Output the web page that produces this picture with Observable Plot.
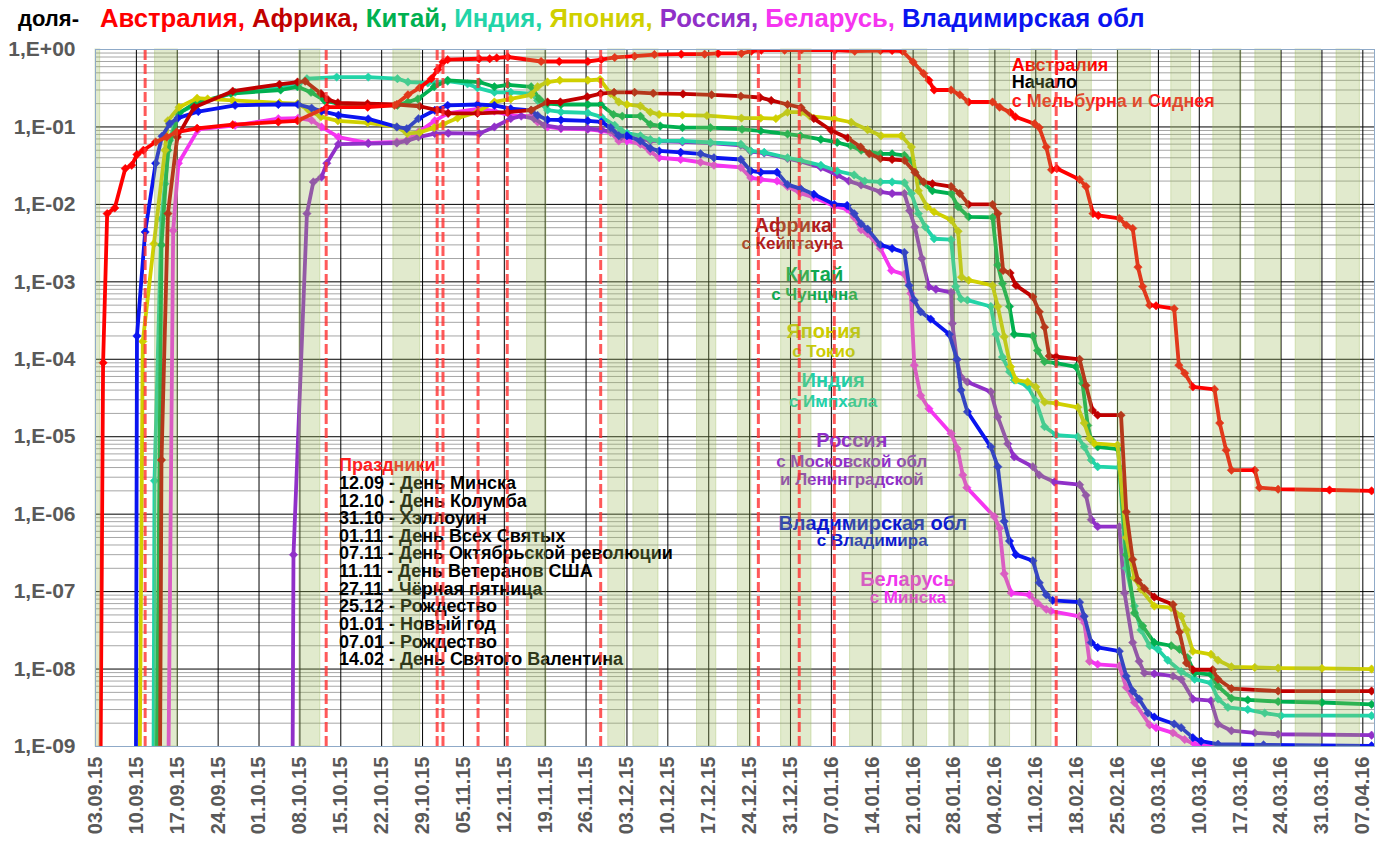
<!DOCTYPE html>
<html><head><meta charset="utf-8">
<script src="https://cdn.jsdelivr.net/npm/d3@7"></script>
<script src="https://cdn.jsdelivr.net/npm/@observablehq/plot@0.6"></script>
<style>
body{margin:0;background:#fff;font-family:"Liberation Sans",Arial,sans-serif;}
#title{position:relative;height:38px;width:1385px;}
#title .u{position:absolute;left:18px;top:8px;font-size:22px;font-weight:bold;line-height:22px;color:#000;}
#title .n{position:absolute;left:100px;top:5px;font-size:25.7px;font-weight:bold;line-height:26px;white-space:nowrap;}
</style></head><body>
<div id="title"></div><div id="chart"></div>
<script>
// ---------- data (x = days since 03.09.15, y = share) ----------
const startDate = "2015-09-03";
const seriesNames = ["Австралия","Африка","Китай","Индия","Япония","Россия","Беларусь","Владимирская обл"];
const seriesColors = ["#ff0000","#c00000","#00b050","#22d4a8","#d0d000","#9030c8","#f535f0","#0a14f0"];

const australia = [[0.8,1e-10],[1.3,9e-5],[2.0,7.6e-3],[3.3,9e-3],[5.1,2.9e-2],[6.2,3.2e-2],[7.1,4.4e-2],[8.2,5e-2],[10.3,6.4e-2],[12.2,7.4e-2],[13.9,8.6e-2],[17.4,9.6e-2],[23.5,0.107],[31.3,0.116],[34.6,0.12],[39.6,0.18],[46.6,0.18],[51.2,0.19],[53.5,0.26],[55.5,0.32],[57.5,0.42],[58.6,0.55],[59.5,0.69],[60.3,0.74],[65.7,0.76],[67.5,0.76],[68.7,0.78],[70.6,0.80],[76.3,0.70],[79.4,0.70],[84.3,0.70],[86.6,0.74],[88.9,0.79],[92.3,0.82],[95.7,0.86],[100.3,0.87],[104.3,0.87],[106.6,0.89],[110.6,0.89],[112.3,0.95],[114,0.98],[118,0.98],[120.9,0.99],[126.6,0.98],[130,0.95],[134.4,0.97],[136.4,0.97],[138.2,0.95],[140,0.69],[141.8,0.49],[142.7,0.40],[143.6,0.30],[146.5,0.30],[148,0.26],[149.5,0.21],[153.6,0.21],[154.8,0.18],[156.6,0.155],[157.5,0.135],[160.8,0.11],[161.6,0.098],[162.8,0.055],[163.7,0.028],[164.6,0.029],[168.5,0.021],[169.6,0.017],[170.8,7.6e-3],[171.7,7.2e-3],[175.3,6.6e-3],[176.5,5.4e-3],[177.6,4.9e-3],[178.5,1.55e-3],[179.3,8.7e-4],[180.5,5e-4],[181.6,4.9e-4],[184.7,4.5e-4],[185.5,8.4e-5],[186.5,6.6e-5],[187.9,4.4e-5],[191.6,4.1e-5],[192.5,1.5e-5],[193.6,6.7e-6],[194.5,3.7e-6],[198.5,3.7e-6],[199.3,2.2e-6],[202.5,2.1e-6],[211.3,2.05e-6],[218.5,2.0e-6]];

const africa = [[11.0,1e-10],[11.3,5e-6],[12.4,7.6e-3],[14,0.074],[16.9,0.18],[23.5,0.29],[31.5,0.355],[34.6,0.38],[35.9,0.39],[38.6,0.27],[39.8,0.225],[41.5,0.205],[46.6,0.2],[51.6,0.195],[55.5,0.185],[58.5,0.165],[60.4,0.15],[65.4,0.15],[70.6,0.155],[74.6,0.165],[77.4,0.21],[79.6,0.21],[84.2,0.245],[86.5,0.27],[88.8,0.28],[92.3,0.28],[95.5,0.272],[100.6,0.267],[105.5,0.26],[110.5,0.25],[113.8,0.24],[115.7,0.22],[118.5,0.195],[120.8,0.178],[123,0.128],[126,0.09],[128.8,0.072],[131,0.055],[132.5,0.045],[134.4,0.039],[136.4,0.038],[138.5,0.037],[140.3,0.026],[141.8,0.0195],[143.3,0.0185],[146.5,0.017],[148,0.0138],[149.5,0.01],[153.6,0.01],[154.5,7.6e-3],[155.4,1.4e-3],[156.6,1.3e-3],[157.6,9e-4],[160.5,6.4e-4],[161.6,4.1e-4],[162.5,2.6e-4],[163.3,1.1e-4],[164.5,1.08e-4],[168.5,1.0e-4],[169.6,4.6e-5],[170.7,2.2e-5],[171.6,1.9e-5],[175.6,1.9e-5],[176.5,1.07e-6],[177.6,2.6e-7],[178.5,1.4e-7],[179.6,1.1e-7],[181.3,8.5e-8],[184.5,6.8e-8],[185.6,3e-8],[186.8,1.2e-8],[187.9,9.8e-9],[191.3,9.8e-9],[192.2,7.4e-9],[194.5,5.6e-9],[202.5,5.2e-9],[218.5,5.2e-9]];

const china = [[10.4,1e-10],[11.3,3e-3],[12.4,0.05],[14.3,0.15],[16.9,0.2],[23.2,0.27],[31.7,0.30],[34.6,0.33],[36.9,0.28],[39.2,0.22],[41.5,0.2],[46.6,0.19],[51.7,0.19],[53.5,0.21],[55.2,0.23],[58,0.33],[60.3,0.40],[65.7,0.38],[68.3,0.33],[70.6,0.35],[74.6,0.33],[76,0.23],[77.4,0.2],[79.7,0.195],[84.3,0.195],[86.5,0.195],[88.7,0.145],[90.2,0.138],[93.3,0.138],[95,0.108],[96.7,0.103],[100.5,0.098],[105.3,0.098],[110.7,0.093],[113.9,0.089],[118.5,0.081],[120.7,0.077],[124.2,0.069],[127,0.063],[129.3,0.057],[131.1,0.05],[134.4,0.045],[136.4,0.045],[138.5,0.043],[139.7,0.037],[141.2,0.020],[143.3,0.015],[146.5,0.0138],[147.7,9.3e-3],[149.5,6.9e-3],[153.6,6.8e-3],[154.5,1.65e-3],[155.3,9.5e-4],[156.5,4.8e-4],[157.3,2.1e-4],[160.5,2e-4],[161.3,1.3e-4],[162.5,9.3e-5],[164.5,8.9e-5],[167.9,8e-5],[169,4.9e-5],[169.9,1.4e-5],[170.5,9.1e-6],[171.6,7.4e-6],[175.1,6.9e-6],[176.5,3e-7],[177.9,5.3e-8],[179.3,3.6e-8],[181.3,2.2e-8],[184.2,2e-8],[185.6,1.8e-8],[187,1.4e-8],[188.2,8.9e-9],[191,8.5e-9],[192.2,6e-9],[194.5,4.2e-9],[197.3,4e-9],[202.5,3.8e-9],[210,3.7e-9],[218.5,3.5e-9]];

const india = [[9.9,1e-10],[10.1,2.7e-6],[11.3,6.5e-3],[11.9,0.0185],[12.7,0.067],[14.1,0.15],[17.6,0.2],[23.9,0.28],[31.3,0.32],[34.7,0.35],[36.2,0.42],[41.3,0.44],[46.7,0.44],[51.7,0.42],[53.5,0.38],[56.9,0.37],[60.3,0.39],[63.7,0.36],[65.4,0.32],[68.3,0.28],[71.1,0.28],[74.6,0.27],[75.7,0.22],[77.4,0.165],[79.7,0.156],[84.3,0.152],[86.6,0.135],[88.9,0.105],[90,0.09],[91,0.083],[93.3,0.077],[95,0.069],[96.5,0.066],[100.5,0.066],[105.3,0.063],[110.5,0.06],[112.2,0.049],[114.5,0.047],[118.5,0.04],[120.7,0.037],[124.2,0.032],[127,0.027],[129.9,0.024],[131.7,0.020],[134.4,0.0195],[136.4,0.0195],[138.5,0.019],[139.7,0.0138],[140.9,7.6e-3],[142.1,5.1e-3],[143.6,3.6e-3],[146.5,3.5e-3],[147.3,8.7e-4],[148.2,6e-4],[149.3,5.8e-4],[153.3,4.8e-4],[154.2,2.1e-4],[155.3,1.07e-4],[156.5,6.9e-5],[157.3,5.4e-5],[159.6,4.5e-5],[161,2.9e-5],[162.5,1.35e-5],[164.5,1.05e-5],[168.2,1e-5],[169.3,7.4e-6],[170.5,5e-6],[171.6,4.1e-6],[175.3,4e-6],[176.5,2e-7],[177.9,6.5e-8],[179,3.2e-8],[180.5,2e-8],[181.9,1.8e-8],[183.6,1.3e-8],[185.9,9.3e-9],[188.2,7.4e-9],[191,6.6e-9],[192.2,4.1e-9],[193.9,3.2e-9],[197.3,3e-9],[200.2,2.7e-9],[203,2.5e-9],[218.5,2.5e-9]];

const japan = [[7.5,1e-10],[8.1,1.7e-4],[10,3.1e-3],[11.9,0.05],[12.4,0.12],[14.3,0.18],[17.4,0.235],[19.2,0.23],[23.5,0.22],[31.5,0.205],[34.6,0.2],[36.5,0.165],[38.6,0.135],[41.5,0.12],[46.6,0.113],[51.6,0.1],[53.4,0.082],[55.5,0.085],[58,0.098],[59.5,0.108],[62,0.13],[65.4,0.156],[68.3,0.21],[71.1,0.23],[74.6,0.26],[75.7,0.33],[77.4,0.38],[79.5,0.40],[84.3,0.40],[86.4,0.41],[88.2,0.27],[89.6,0.21],[91,0.195],[93.3,0.186],[95,0.155],[96.5,0.145],[100.5,0.142],[104.7,0.14],[110.6,0.13],[113.9,0.13],[116.5,0.128],[118.5,0.155],[120.8,0.155],[122.3,0.138],[126.5,0.127],[129.4,0.115],[132.2,0.092],[134.5,0.077],[138,0.077],[139.7,0.055],[140.9,0.015],[142.4,9.3e-3],[143.6,8e-3],[146.5,6.3e-3],[147.7,4.5e-3],[148.3,1.15e-3],[149.5,1.05e-3],[153.6,9e-4],[154.5,4.8e-4],[155.6,1.95e-4],[156.7,8e-5],[157.6,5.4e-5],[159.6,5.1e-5],[161,4.4e-5],[162.5,2.8e-5],[164.5,2.7e-5],[168.2,2.4e-5],[169.3,1.5e-5],[170.2,9.5e-6],[171,8.2e-6],[175,7.8e-6],[176.5,5e-7],[177.9,1.5e-7],[179,1.07e-7],[181.3,6.5e-8],[184.2,6.2e-8],[185.9,4.8e-8],[186.8,3.2e-8],[187.9,1.7e-8],[191,1.55e-8],[192.2,1.3e-8],[194.5,1.07e-8],[198.5,1.05e-8],[202.5,1.03e-8],[210,1.02e-8],[218.5,1.0e-8]];

const russia = [[33.7,1e-10],[33.9,3e-7],[36.2,7.6e-3],[37.3,0.0195],[38.7,0.0225],[39.6,0.034],[41.6,0.06],[46.7,0.061],[51.6,0.062],[53.3,0.066],[55.3,0.074],[58.1,0.082],[60.4,0.083],[65.7,0.082],[68.3,0.1],[71.1,0.128],[72.9,0.138],[75.1,0.128],[76.9,0.105],[79.7,0.097],[84.3,0.095],[86.6,0.092],[88.9,0.085],[90,0.075],[93.3,0.07],[95,0.066],[100.5,0.064],[105.3,0.062],[110.5,0.058],[112.2,0.048],[114.5,0.046],[118.5,0.039],[120.7,0.036],[124.2,0.03],[127,0.024],[129,0.02],[131.1,0.0178],[134.4,0.0145],[136.4,0.0138],[138.5,0.0138],[139.4,8.3e-3],[140.3,5.1e-3],[141.5,2e-3],[142.7,8.6e-4],[143.9,8e-4],[146.5,7.3e-4],[146.7,2.9e-4],[147.5,9.8e-5],[148.2,5.9e-5],[149.3,5.1e-5],[153.3,3.8e-5],[154.5,1.8e-5],[156.2,8.1e-6],[157.3,5.5e-6],[160.5,4.1e-6],[161.6,3.2e-6],[164.2,2.6e-6],[168.5,2.4e-6],[169.6,1.75e-6],[170.5,8.5e-7],[171.6,6.9e-7],[175.3,6.9e-7],[176.2,9.6e-8],[177.6,2.2e-8],[178.7,1.26e-8],[179.6,8.9e-9],[181.3,8.7e-9],[184.5,8.1e-9],[185.9,7.4e-9],[187.9,4.1e-9],[191,3.9e-9],[192.2,1.95e-9],[194.5,1.6e-9],[198.5,1.5e-9],[202.5,1.44e-9],[218.5,1.4e-9]];

const belarus = [[12.4,1e-10],[13.3,4.6e-3],[14.2,0.034],[17.6,0.093],[23.9,0.105],[31.3,0.128],[34.7,0.13],[37,0.122],[38.7,0.1],[41.6,0.074],[46.7,0.062],[51.6,0.064],[53.3,0.067],[55.3,0.086],[58.1,0.12],[60.3,0.15],[65.7,0.172],[68.3,0.16],[71.1,0.141],[74.6,0.138],[75.7,0.116],[77.4,0.1],[79.7,0.095],[84.3,0.093],[86.6,0.089],[88.2,0.085],[89.6,0.066],[91,0.066],[93.3,0.06],[95,0.048],[96.5,0.04],[100.2,0.038],[103.6,0.035],[105.9,0.032],[110.5,0.030],[112.2,0.022],[113.9,0.021],[116.7,0.02],[118.5,0.017],[120.7,0.014],[123,0.0123],[126.5,9.5e-3],[128.7,8.7e-3],[129.9,6.8e-3],[131.1,4.7e-3],[132.2,4.2e-3],[134.4,2.7e-3],[136.3,1.4e-3],[138.5,1.25e-3],[139.6,7.1e-4],[140.2,8.4e-5],[141.3,3.4e-5],[142.7,2.3e-5],[146.5,1.1e-5],[147.6,7e-6],[148.5,3.2e-6],[149.2,2.2e-6],[153.9,9.3e-7],[154.8,6.6e-7],[155.6,1.7e-7],[156.8,9.6e-8],[159.9,9.1e-8],[161.3,7.1e-8],[162.8,5.9e-8],[163.6,5.6e-8],[168.5,4.8e-8],[169.3,4e-8],[170.2,1.26e-8],[171.6,1.15e-8],[175.3,1.1e-8],[176.5,5.8e-9],[177.9,3.7e-9],[180.5,1.9e-9],[181.6,1.75e-9],[184.5,1.5e-9],[186.5,1.23e-9],[188.2,1.07e-9],[191,1.0e-9],[218.5,1.0e-9]];

const vladimir = [[6.9,1e-10],[7.1,2e-4],[8.5,4.4e-3],[10.3,0.034],[11.4,0.076],[12.7,0.11],[14.1,0.13],[17.6,0.158],[23.9,0.19],[31.3,0.195],[34.7,0.195],[37,0.175],[38.7,0.16],[41.6,0.142],[46.7,0.127],[51.6,0.1],[53.3,0.095],[55.3,0.128],[58.1,0.164],[60.3,0.19],[65.4,0.195],[68.3,0.19],[71.1,0.172],[74.6,0.164],[75.7,0.141],[77.4,0.124],[79.7,0.123],[84.3,0.12],[86.6,0.116],[88.2,0.098],[89.6,0.077],[91,0.077],[93.3,0.066],[95,0.053],[96.5,0.049],[100.2,0.047],[103.6,0.045],[105.9,0.04],[110.5,0.038],[112.2,0.027],[113.9,0.026],[116.7,0.026],[118.5,0.018],[120.7,0.016],[123,0.0135],[126.5,0.01],[128.7,0.0097],[129.9,7.6e-3],[131.1,5.6e-3],[132.2,4.8e-3],[134.4,3e-3],[136.4,2.7e-3],[138.5,2.4e-3],[139.3,9e-4],[140.2,5.8e-4],[141.3,4.1e-4],[143,3.3e-4],[146.2,2.1e-4],[147.5,1e-4],[148.2,4e-5],[149.3,2.1e-5],[153.3,7.4e-6],[154.5,4.1e-6],[155.6,8.1e-7],[156.5,4.5e-7],[157.6,3e-7],[160.5,2.5e-7],[161.6,1.3e-7],[162.8,9.1e-8],[163.9,7.7e-8],[168.5,7.3e-8],[169.3,4.8e-8],[170.5,2.2e-8],[171.6,1.9e-8],[175.3,1.7e-8],[176.5,8.1e-9],[177.6,5.2e-9],[178.7,4.1e-9],[180.2,2.7e-9],[181.3,2.4e-9],[184.7,1.95e-9],[185.9,1.75e-9],[187.9,1.3e-9],[189.3,1.17e-9],[192.2,1.07e-9],[200,1.05e-9],[218.5,1.02e-9]];

// weekly tick labels
const xTickLabels = ["03.09.15","10.09.15","17.09.15","24.09.15","01.10.15","08.10.15","15.10.15","22.10.15","29.10.15","05.11.15","12.11.15","19.11.15","26.11.15","03.12.15","10.12.15","17.12.15","24.12.15","31.12.15","07.01.16","14.01.16","21.01.16","28.01.16","04.02.16","11.02.16","18.02.16","25.02.16","03.03.16","10.03.16","17.03.16","24.03.16","31.03.16","07.04.16"];
const yTicks = [1,1e-1,1e-2,1e-3,1e-4,1e-5,1e-6,1e-7,1e-8,1e-9];
const yTickLabels = ["1,E+00","1,E-01","1,E-02","1,E-03","1,E-04","1,E-05","1,E-06","1,E-07","1,E-08","1,E-09"];

// shaded periods [from day, to day]
const bands = [[0,0.8],[10.2,14.1],[34.9,38.5],[51,55.6],[73.9,77.2],[87.8,90.7],[92.1,96.4],[103,106.3],[110,112.3],[117.4,122.6],[129.2,134.6],[138.2,142.4],[146.2,149.5],[153.1,156.6],[160.3,163.7],[168.3,170.6],[175,180.7],[184.2,187.6],[191.4,196.2],[198.6,203],[205.5,209.8],[212.5,216.5]];
// dashed holiday lines (as drawn)
const holidayLineDates = ["2015-09-11","2015-10-12","2015-10-31","2015-11-01","2015-11-07","2015-11-12","2015-11-28","2015-12-25","2016-01-01","2016-01-07","2016-02-14"];
const holidayTitle = "Праздники";
const holidayLabels = ["12.09 - День Минска","12.10 - День Колумба","31.10 - Хэллоуин","01.11 - День Всех Святых","07.11 - День Октябрьской революции","11.11 - День Ветеранов США","27.11 - Чёрная пятница","25.12 - Рождество","01.01 - Новый год","07.01 - Рождество","14.02 - День Святого Валентина"];

// annotations [day, value, text, color]
const annotNames = [[119.5,5.3e-3,"Африка","#b01c1c"],[123.1,1.24e-3,"Китай","#10a850"],[124.7,2.3e-4,"Япония","#cccc00"],[126.3,5.3e-5,"Индия","#22d0a8"],[129.5,8.9e-6,"Россия","#8f2fc8"],[133.1,7.6e-7,"Владимирская обл","#0a18d0"],[139.1,1.44e-7,"Беларусь","#f035ee"]];
const annotSubs = [[119.3,3.1e-3,"с Кейптауна","#b01c1c"],[123.1,6.9e-4,"с Чунцина","#10a850"],[124.7,1.26e-4,"с Токио","#cccc00"],[126.3,2.85e-5,"с Импхала","#22d0a8"],[129.5,4.8e-6,"с Московской обл","#8f2fc8"],[129.5,2.8e-6,"и Ленинградской","#8f2fc8"],[133,4.5e-7,"с Владимира","#0a18d0"],[139.1,8.4e-8,"с Минска","#f035ee"]];
const annotAustralia = [[156.9,0.63,"Австралия","#ff0000"],[156.9,0.375,"Начало","#000000"],[156.9,0.216,"с Мельбурна и Сиднея","#ff1a1a"]];

// ---------- drawing ----------
const DAY = 864e5;
const t0 = Date.parse(startDate + "T00:00:00Z");
const toDate = d => new Date(t0 + d * DAY);
const parseTick = d3.utcParse("%d.%m.%y");
const xTickDates = xTickLabels.map(parseTick);
const tickLabelByTime = new Map(xTickDates.map((d, i) => [+d, xTickLabels[i]]));
const minorY = [];
for (let k = 1; k <= 9; k++) for (let m = 2; m <= 9; m++) minorY.push(m * Math.pow(10, -k));

// title
const title = document.getElementById("title");
title.innerHTML = '<span class="u">доля-</span><span class="n">' +
  seriesNames.map((n, i) => `<span style="color:${seriesColors[i]}">${n}${i < seriesNames.length - 1 ? "," : ""}</span>`).join(" ") + "</span>";

const seriesData = [australia, africa, china, india, japan, russia, belarus, vladimir];
const drawOrder = [6, 5, 3, 2, 4, 7, 1, 0];
const seriesMarks = [];
for (const i of drawOrder) {
  const data = seriesData[i];
  seriesMarks.push(Plot.line(data, {x: d => toDate(d[0]), y: d => d[1], stroke: seriesColors[i], strokeWidth: 3.8, strokeLinejoin: "round", clip: true}));
  seriesMarks.push(Plot.dot(data, {x: d => toDate(d[0]), y: d => d[1], symbol: "diamond2", r: 3.8, fill: seriesColors[i], stroke: seriesColors[i], strokeWidth: 0.5, clip: true}));
}

const chart = Plot.plot({
  width: 1385, height: 806,
  marginLeft: 95, marginRight: 11, marginTop: 11, marginBottom: 98,
  x: {type: "utc", domain: [toDate(0), toDate(219)], label: null},
  y: {type: "log", domain: [1e-9, 1], label: null},
  color: {type: "identity"},
  style: {fontFamily: "'Liberation Sans', Arial, sans-serif", background: "#fff", overflow: "visible"},
  marks: [
    Plot.ruleY(minorY, {stroke: "#a6a6a6", strokeWidth: 1}),
    Plot.ruleY(yTicks, {stroke: "#000", strokeWidth: 1}),
    Plot.ruleX(xTickDates, {stroke: "#000", strokeWidth: 1}),
    // holiday list
    Plot.text([holidayTitle], {x: () => toDate(41.7), y: () => 4.3e-6, text: d => d, fill: "#ff2020", fontSize: 18, fontWeight: "bold", textAnchor: "start"}),
    Plot.text([holidayLabels.join("\n")], {x: () => toDate(41.7), y: () => 1.82e-7, text: d => d, fill: "#000", fontSize: 18, fontWeight: "bold", textAnchor: "start", lineHeight: 0.98}),
    // annotations
    Plot.text(annotNames, {x: d => toDate(d[0]), y: d => d[1], text: d => d[2], fill: d => d[3], fontSize: 20, fontWeight: "bold", textAnchor: "middle"}),
    Plot.text(annotSubs, {x: d => toDate(d[0]), y: d => d[1], text: d => d[2], fill: d => d[3], fontSize: 17, fontWeight: "bold", textAnchor: "middle"}),
    Plot.text(annotAustralia, {x: d => toDate(d[0]), y: d => d[1], text: d => d[2], fill: d => d[3], fontSize: 18, fontWeight: "bold", textAnchor: "start"}),
    ...seriesMarks,
    Plot.rect(bands, {x1: d => toDate(d[0]), x2: d => toDate(d[1]), y1: () => 1e-9, y2: () => 1, fill: "#9bbb59", fillOpacity: 0.3, stroke: "#9bbb59", strokeOpacity: 0.35, strokeWidth: 1}),
    Plot.ruleX(holidayLineDates, {x: d => new Date(Date.parse(d + "T12:00:00Z")), y1: () => 1e-9, y2: () => 1, stroke: "#ff3030", strokeWidth: 3, strokeDasharray: "10,4", strokeOpacity: 0.8}),
    Plot.frame({stroke: "#8faac8"}),
    Plot.axisX({ticks: xTickDates, tickFormat: d => tickLabelByTime.get(+d), tickRotate: -90, tickSize: 0, tickPadding: 10, fontSize: 20, fontWeight: "bold", fill: "#595959", label: null}),
    Plot.axisY({ticks: yTicks, tickFormat: d => yTickLabels[Math.round(-Math.log10(d))], tickSize: 0, tickPadding: 20, fontSize: 21, fontWeight: "bold", fill: "#595959", label: null})
  ]
});
document.getElementById("chart").appendChild(chart);
</script></body></html>
